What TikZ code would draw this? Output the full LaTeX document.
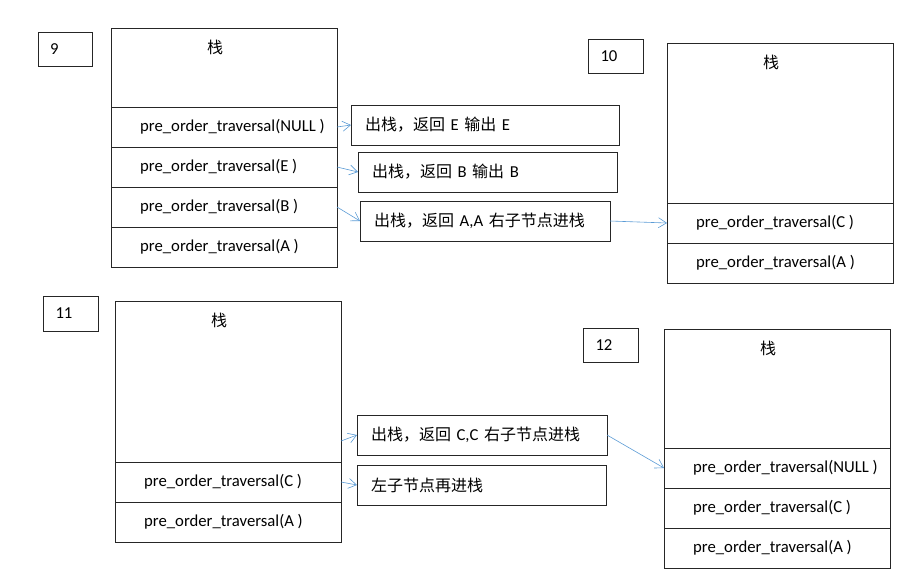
\documentclass[tikz,border=0pt]{standalone}
\usepackage{fontspec}
\setmainfont{Carlito}
\newfontfamily\cjk{Noto Sans CJK SC}
\usetikzlibrary{positioning, arrows.meta}
\definecolor{linkblue}{RGB}{91,155,213}

\tikzset{
    box/.style={draw=black!85, line width=0.8pt, outer sep=0pt, inner sep=0pt},
    stackrow/.style={box, minimum width=226pt, minimum height=40pt},
    rowtext/.style={anchor=west, inner xsep=0pt, xshift=29pt},
    stacktitle/.style={anchor=center, xshift=-9pt, yshift=-19pt},
    note/.style={box, minimum height=40pt, inner xsep=14pt, align=left, anchor=north west},
    stepnum/.style={box, minimum width=54pt, minimum height=34pt, text width=30pt, inner xsep=12pt, align=left, anchor=north west},
    link/.style={draw=linkblue, line width=0.6pt, -{Straight Barb[length=8pt, width=10pt]}}
}

\begin{document}
\begin{tikzpicture}[x=1pt, y=-1pt, font=\fontsize{16.7}{19}\selectfont]
    \useasboundingbox (0,0) rectangle (915,573);

    % step 9
    \node (num9) [stepnum] at (38,32) {9};
    \node (top9) [box, minimum width=226pt, minimum height=79pt, anchor=north west, label={[stacktitle]north:{\cjk\fontsize{16}{19}\selectfont 栈}}] at (111,28) {};
    \node (null9) [stackrow, below=0pt of top9, label={[rowtext]west:pre\_order\_traversal(NULL )}] {};
    \node (e9) [stackrow, below=0pt of null9, label={[rowtext]west:pre\_order\_traversal(E )}] {};
    \node (b9) [stackrow, below=0pt of e9, label={[rowtext]west:pre\_order\_traversal(B )}] {};
    \node (a9) [stackrow, below=0pt of b9, label={[rowtext]west:pre\_order\_traversal(A )}] {};
    \node (ret9e) [note, text width=240pt] at (351,105) {{\cjk\fontsize{16}{19}\selectfont 出栈，返回} E {\cjk\fontsize{16}{19}\selectfont 输出} E};
    \node (ret9b) [note, text width=231pt] at (358,152) {{\cjk\fontsize{16}{19}\selectfont 出栈，返回} B {\cjk\fontsize{16}{19}\selectfont 输出} B};
    \node (ret9a) [note, text width=222pt] at (360,201) {{\cjk\fontsize{16}{19}\selectfont 出栈，返回} A,A {\cjk\fontsize{16}{19}\selectfont 右子节点进栈}};
    \draw [link] (null9.east) -- (ret9e.west);
    \draw [link] (e9.east) -- (ret9b.west);
    \draw [link] (b9.east) -- (ret9a.west);

    % step 10
    \node (num10) [stepnum, minimum width=55pt] at (588,39) {10};
    \node (top10) [box, minimum width=226pt, minimum height=160pt, anchor=north west, label={[stacktitle]north:{\cjk\fontsize{16}{19}\selectfont 栈}}] at (667,43) {};
    \node (c10) [stackrow, below=0pt of top10, label={[rowtext]west:pre\_order\_traversal(C )}] {};
    \node (a10) [stackrow, below=0pt of c10, label={[rowtext]west:pre\_order\_traversal(A )}] {};
    \draw [link] (ret9a.east) -- (c10.west);

    % step 11
    \node (num11) [stepnum, minimum width=55pt, minimum height=35pt] at (43,296) {11};
    \node (top11) [box, minimum width=226pt, minimum height=161pt, anchor=north west, label={[stacktitle]north:{\cjk\fontsize{16}{19}\selectfont 栈}}] at (115,301) {};
    \node (c11) [stackrow, below=0pt of top11, label={[rowtext]west:pre\_order\_traversal(C )}] {};
    \node (a11) [stackrow, below=0pt of c11, label={[rowtext]west:pre\_order\_traversal(A )}] {};
    \node (ret11c) [note, text width=222pt] at (357,415) {{\cjk\fontsize{16}{19}\selectfont 出栈，返回} C,C {\cjk\fontsize{16}{19}\selectfont 右子节点进栈}};
    \node (push11) [note, text width=221pt] at (357,465) {{\cjk\fontsize{16}{19}\selectfont 左子节点再进栈}};
    \coordinate (out11) at ([yshift=21pt]top11.south east);
    \draw [link] (out11) -- (ret11c.west);
    \draw [link] (c11.east) -- (push11.west);

    % step 12
    \node (num12) [stepnum, minimum width=55pt] at (583,328) {12};
    \node (top12) [box, minimum width=226pt, minimum height=119pt, anchor=north west, label={[stacktitle]north:{\cjk\fontsize{16}{19}\selectfont 栈}}] at (664,329) {};
    \node (null12) [stackrow, below=0pt of top12, label={[rowtext]west:pre\_order\_traversal(NULL )}] {};
    \node (c12) [stackrow, below=0pt of null12, label={[rowtext]west:pre\_order\_traversal(C )}] {};
    \node (a12) [stackrow, below=0pt of c12, label={[rowtext]west:pre\_order\_traversal(A )}] {};
    \draw [link] (ret11c.east) -- (null12.west);
\end{tikzpicture}
\end{document}
